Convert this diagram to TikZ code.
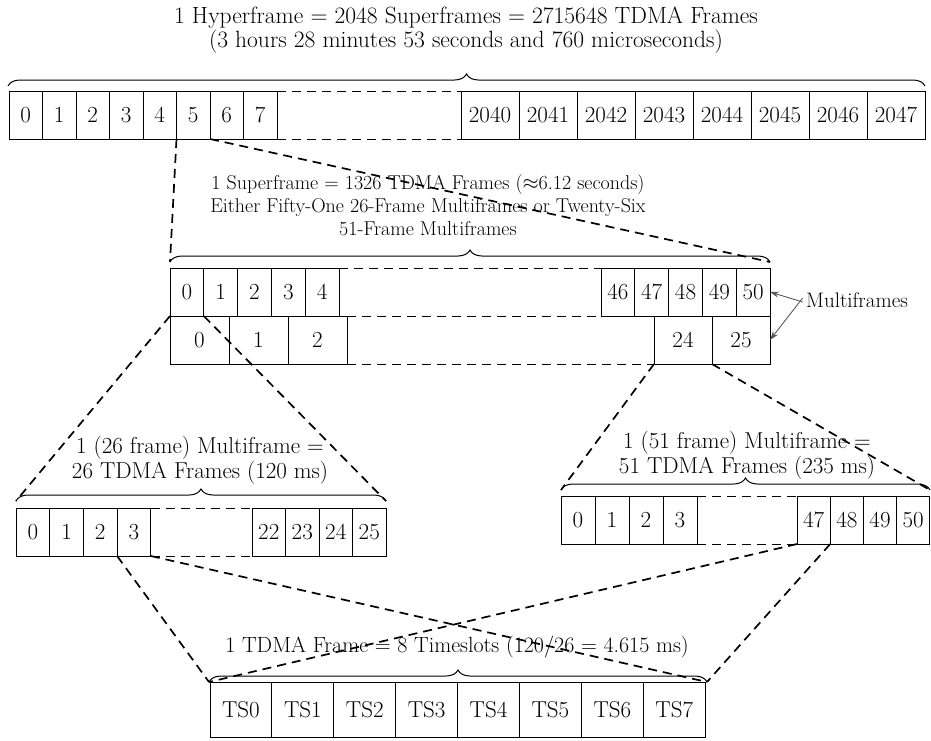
\documentclass[tikz,border=0pt]{standalone}
\usetikzlibrary{arrows.meta, decorations.pathreplacing, calc}

\begin{document}
\begin{tikzpicture}[
  x=1pt, y=-1pt,
  cell/.style = {
    draw, line width=0.9pt, anchor=north west, inner sep=0pt, outer sep=0pt,
    minimum height=48pt, font=\fontsize{23}{25}\selectfont
  },
  txt/.style = { align=center, font=\fontsize{21}{23}\selectfont },
  gap/.style = { line width=0.9pt, dash pattern=on 9pt off 6pt },
  zoomln/.style = { line width=1.7pt, dash pattern=on 9pt off 6pt },
  brc/.style = { decorate, decoration={brace, amplitude=12pt}, line width=1pt },
  ptr/.style = { -{Stealth[length=9pt, width=6pt]}, draw=black!65, line width=0.9pt }
]
\useasboundingbox (0,0) rectangle (931,740);

\node[txt, font=\fontsize{23.5}{24}\selectfont] (hyper) at (466, 30) {1 Hyperframe = 2048 Superframes = 2715648 TDMA Frames\\(3 hours 28 minutes 53 seconds and 760 microseconds)};
\foreach \n [count=\k from 0] in {0,...,7}
  \node[cell, minimum width=33.5pt] (h\n) at (9+33.5*\k, 91) {\n};
\foreach \n [count=\k from 0] in {2040,...,2047}
  \node[cell, minimum width=58pt] (h\n) at (461+58*\k, 91) {\n};
\coordinate (hbL) at (8, 86);
\coordinate (hbR) at (925, 86);
\draw[brc] (hbL) -- (hbR);
\draw[gap] (h7.north east) -- (h2040.north west);
\draw[gap] (h7.south east) -- (h2040.south west);

\node[txt, font=\fontsize{20}{23}\selectfont] (super) at (428, 205) {1 Superframe = 1326 TDMA Frames ($\approx$6.12 seconds)\\Either Fifty-One 26-Frame Multiframes or Twenty-Six\\51-Frame Multiframes};
\foreach \n [count=\k from 0] in {0,...,4}
  \node[cell, minimum width=33.8pt] (s\n) at (170+33.8*\k, 268) {\n};
\foreach \n [count=\k from 0] in {46,...,50}
  \node[cell, minimum width=33.8pt] (s\n) at (601+33.8*\k, 268) {\n};
\foreach \n [count=\k from 0] in {0,...,2}
  \node[cell, minimum width=59pt] (m\n) at (170+59*\k, 316) {\n};
\foreach \n [count=\k from 0] in {24,25}
  \node[cell, minimum width=58pt] (m\n) at (654+58*\k, 316) {\n};
\coordinate (sbL) at (170, 262);
\coordinate (sbR) at (770, 262);
\draw[brc] (sbL) -- (sbR);
\draw[gap] (s4.north east) -- (s46.north west);
\draw[gap] (m2.north east) -- (s46.south west);
\draw[gap] (m2.south east) -- (m24.south west);
\node[font=\fontsize{21}{23}\selectfont] (mflbl) at (857, 300) {Multiframes};
\draw[ptr] ([yshift=-2pt]mflbl.west) -- (s50.east);
\draw[ptr] ([yshift=2pt]mflbl.west) -- (m25.east);

\draw[zoomln] (h4.south east) -- (sbL);
\draw[zoomln] (h5.south east) -- (sbR);

\node[txt, font=\fontsize{23}{25}\selectfont] (mf26) at (200, 460) {1 (26 frame) Multiframe =\\26 TDMA Frames (120 ms)};
\foreach \n [count=\k from 0] in {0,...,3}
  \node[cell, minimum width=33.7pt] (a\n) at (16+33.7*\k, 508) {\n};
\foreach \n [count=\k from 0] in {22,...,25}
  \node[cell, minimum width=33.5pt] (a\n) at (252+33.5*\k, 508) {\n};
\coordinate (abL) at (16, 501);
\coordinate (abR) at (386, 501);
\draw[brc] (abL) -- (abR);
\draw[gap] (a3.north east) -- (a22.north west);
\draw[gap] (a3.south east) -- (a22.south west);

\node[txt, font=\fontsize{23}{25}\selectfont] (mf51) at (747, 455) {1 (51 frame) Multiframe =\\51 TDMA Frames (235 ms)};
\foreach \n [count=\k from 0] in {0,...,3}
  \node[cell, minimum width=34pt] (b\n) at (561+34*\k, 496) {\n};
\foreach \n [count=\k from 0] in {47,...,50}
  \node[cell, minimum width=33.2pt] (b\n) at (797+33.2*\k, 496) {\n};
\coordinate (bbL) at (561, 490);
\coordinate (bbR) at (930, 490);
\draw[brc] (bbL) -- (bbR);
\draw[gap] (b3.north east) -- (b47.north west);
\draw[gap] (b3.south east) -- (b47.south west);

\draw[zoomln] (s0.south west) -- (abL);
\draw[zoomln] (s0.south east) -- (abR);
\draw[zoomln] (m24.south west) -- (bbL);
\draw[zoomln] (m24.south east) -- (bbR);

\node[txt, font=\fontsize{22}{24}\selectfont] (tdma) at (457, 647) {1 TDMA Frame = 8 Timeslots (120/26 = 4.615 ms)};
\foreach \n [count=\k from 0] in {0,...,7}
  \node[cell, minimum width=61.9pt, minimum height=55pt] (ts\n) at (210+61.9*\k, 682) {TS\n};
\coordinate (tbL) at (209, 682);
\coordinate (tbR) at (707, 682);
\draw[brc] (tbL) -- (tbR);

\draw[zoomln] (a3.south west) -- (tbL);
\draw[zoomln] (a3.south east) -- (tbR);
\draw[zoomln] (b47.south west) -- (tbL);
\draw[zoomln] (b47.south east) -- (tbR);

\end{tikzpicture}
\end{document}
